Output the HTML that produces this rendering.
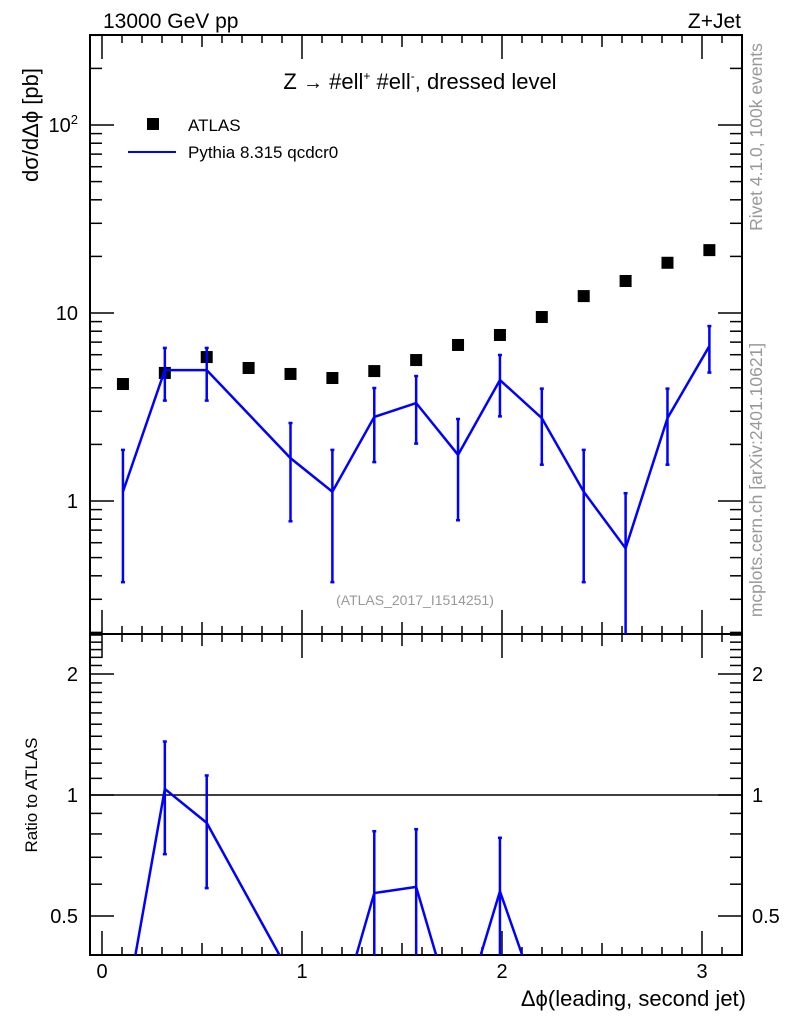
<!DOCTYPE html>
<html><head><meta charset="utf-8"><style>
html,body{margin:0;padding:0;background:#fff;overflow:hidden;width:786px;height:1024px;}
svg{display:block;font-family:"Liberation Sans",sans-serif;}
</style></head><body>
<svg id="chart" width="786" height="1024" viewBox="0 0 786 1024" xmlns="http://www.w3.org/2000/svg">
<defs>
<clipPath id="cm"><rect x="90" y="35" width="652" height="599"/></clipPath>
<clipPath id="cr"><rect x="90" y="634" width="652" height="321"/></clipPath>
</defs>
<rect x="90" y="35" width="652" height="920" fill="none" stroke="#000" stroke-width="2"/>
<line x1="90" y1="634" x2="742" y2="634" stroke="#000" stroke-width="2"/>
<g id="ticks"></g>
<text x="103" y="28" font-size="21">13000 GeV pp</text>
<text x="741" y="28" font-size="21" text-anchor="end">Z+Jet</text>
<text x="420" y="89" font-size="22" text-anchor="middle">Z  <tspan font-size="20">→</tspan>  #ell<tspan font-size="12" dy="-9">+</tspan><tspan dy="9"> #ell</tspan><tspan font-size="12" dy="-9">-</tspan><tspan dy="9">, dressed level</tspan></text>
<rect x="147" y="118" width="12" height="12" fill="#000"/>
<text x="188" y="131" font-size="17">ATLAS</text>
<line x1="128" y1="152" x2="176" y2="152" stroke="#0000ff" stroke-width="2"/>
<text x="188" y="158" font-size="17">Pythia 8.315 qcdcr0</text>
<text x="415" y="605" font-size="14" fill="#999" text-anchor="middle">(ATLAS_2017_I1514251)</text>
<text transform="translate(38,125) rotate(-90)" font-size="22" text-anchor="middle">dσ/dΔϕ [pb]</text>
<text transform="translate(37,795) rotate(-90)" font-size="17" text-anchor="middle">Ratio to ATLAS</text>
<text x="746" y="1006" font-size="22" text-anchor="end">Δϕ(leading, second jet)</text>
<text transform="translate(762,137) rotate(-90)" font-size="17.5" fill="#999" text-anchor="middle">Rivet 4.1.0,  100k events</text>
<text transform="translate(762,480) rotate(-90)" font-size="17.5" fill="#999" text-anchor="middle">mcplots.cern.ch [arXiv:2401.10621]</text>
<g id="main" clip-path="url(#cm)"></g>
<g id="ratio" clip-path="url(#cr)"></g>
</svg>
<script>
const xCenters=[0.1047,0.3142,0.5236,0.7330,0.9425,1.1519,1.3614,1.5708,1.7802,1.9897,2.1991,2.4086,2.6180,2.8274,3.0369];
const atlasVals=[4.19,4.8,5.83,5.1,4.74,4.51,4.91,5.62,6.76,7.64,9.52,12.3,14.8,18.5,21.6];
const pythiaVals=[1.12,4.97,4.97,null,1.69,1.12,2.8,3.32,1.76,4.4,2.76,1.12,0.56,2.76,6.67];
const pythiaErr=[0.75,1.55,1.55,null,0.91,0.75,1.19,1.3,0.97,1.58,1.2,0.75,0.54,1.2,1.85];
const xTickLabels=["0","1","2","3"];
const mainTickLabels=["1","10","10²"];
const ratioTickLabels=["0.5","1","2"];
const NS="http://www.w3.org/2000/svg";
const X=v=>102+200*v;
const Ym=v=>501-188*Math.log10(v);
const Yr=v=>795-402*Math.log10(v);
const RMIN=0.4,RMAX=2.55;
function mk(p,tag,at){const e=document.createElementNS(NS,tag);for(const k in at)e.setAttribute(k,at[k]);p.appendChild(e);return e;}
const T=document.getElementById('ticks');
function ln(x1,y1,x2,y2,name){const l=mk(T,'line',{x1,y1,x2,y2,stroke:'#000','stroke-width':1.5});

}
for(let i=0;i<=31;i++){const v=i/10,x=X(v);if(x>741)break;const L=(i%10===0)?24:(i%5===0?12:8);
for(const [yb,dir] of [[35,1],[634,-1],[634,1],[955,-1]]) ln(x,yb,x,yb+dir*L,'x-tick');}
xTickLabels.forEach((s,i)=>{const t=mk(T,'text',{x:X(+s),y:978,'font-size':20,'text-anchor':'middle'});t.textContent=s;

});
for(let d=-1;d<=2;d++)for(let m=1;m<=9;m++){const v=m*Math.pow(10,d),y=Ym(v);if(y<35||y>634)continue;const L=m===1?24:12;
ln(90,y,90+L,y,'y-tick');ln(742,y,742-L,y,'y-tick');}
mainTickLabels.forEach((s,i)=>{const y=Ym(Math.pow(10,i));const t=mk(T,'text',{x:78,y:y+7,'font-size':20,'text-anchor':'end'});
if(i===2){t.textContent='10';const sp=mk(t,'tspan',{dy:-8,'font-size':13});sp.textContent='2';}else t.textContent=s;

});
for(let k=4;k<=25;k++){const v=k/10,y=Yr(v);if(y<634||y>955)continue;const maj=(k===5||k===10||k===20);const L=maj?24:12;
ln(90,y,90+L,y,'ratio-tick');ln(742,y,742-L,y,'ratio-tick');}
ratioTickLabels.forEach(s=>{const y=Yr(+s);for(const [x,a] of [[78,'end'],[752,'start']]){const t=mk(T,'text',{x,y:y+7,'font-size':20,'text-anchor':a});t.textContent=s;

}});
const M=document.getElementById('main');
atlasVals.forEach((v,i)=>{const r=mk(M,'rect',{x:X(xCenters[i])-6,y:Ym(v)-6,width:12,height:12,fill:'#000'});

});
const pts=[];pythiaVals.forEach((v,i)=>{if(v!=null)pts.push(X(xCenters[i])+','+Ym(v));});
const pl=mk(M,'polyline',{points:pts.join(' '),fill:'none',stroke:'#0000ff','stroke-width':2.5});


pythiaVals.forEach((v,i)=>{if(v==null)return;const x=X(xCenters[i]),lo=Math.max(v-pythiaErr[i],0.01),hi=v+pythiaErr[i];
const g=mk(M,'g',{stroke:'#0000ff','stroke-width':2.5});


mk(g,'line',{x1:x,y1:Ym(hi),x2:x,y2:Ym(lo)});
mk(g,'line',{x1:x-2,y1:Ym(hi),x2:x+2,y2:Ym(hi)});
mk(g,'line',{x1:x-2,y1:Ym(lo),x2:x+2,y2:Ym(lo)});});
const R=document.getElementById('ratio');
const ref=mk(R,'line',{x1:90,y1:Yr(1),x2:742,y2:Yr(1),stroke:'#000','stroke-width':1.5});


const rp=[];pythiaVals.forEach((v,i)=>{if(v==null)return;const r=v/atlasVals[i];rp.push(X(xCenters[i])+','+Yr(r));});
const rl=mk(R,'polyline',{points:rp.join(' '),fill:'none',stroke:'#0000ff','stroke-width':2.5});


pythiaVals.forEach((v,i)=>{if(v==null)return;const x=X(xCenters[i]),r=v/atlasVals[i],e=pythiaErr[i]/atlasVals[i];
if(r<RMIN||r>RMAX)return;
const lo=Math.max(r-e,0.01),hi=r+e;
const g=mk(R,'g',{stroke:'#0000ff','stroke-width':2.5});


mk(g,'line',{x1:x,y1:Yr(hi),x2:x,y2:Yr(lo)});
mk(g,'line',{x1:x-2,y1:Yr(hi),x2:x+2,y2:Yr(hi)});
mk(g,'line',{x1:x-2,y1:Yr(lo),x2:x+2,y2:Yr(lo)});});
</script>
</body></html>
